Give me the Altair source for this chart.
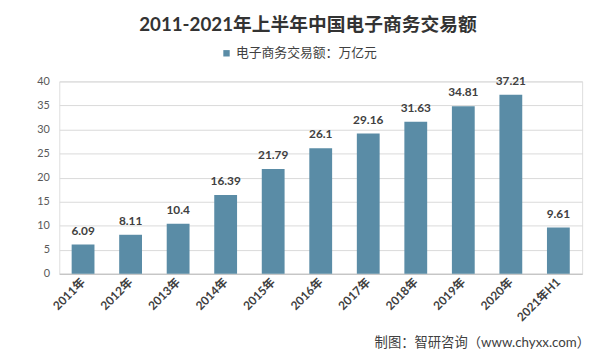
import altair as alt
import pandas as pd

categories = ["2011年", "2012年", "2013年", "2014年", "2015年", "2016年",
              "2017年", "2018年", "2019年", "2020年", "2021年H1"]
values = [6.09, 8.11, 10.4, 16.39, 21.79, 26.1, 29.16, 31.63, 34.81, 37.21, 9.61]
labels = ["6.09", "8.11", "10.4", "16.39", "21.79", "26.1", "29.16", "31.63", "34.81", "37.21", "9.61"]
y_ticks = [0, 5, 10, 15, 20, 25, 30, 35, 40]
series_name = "电子商务交易额：万亿元"
title_text = "2011-2021年上半年中国电子商务交易额"
source_text = "制图：智研咨询（www.chyxx.com）"

BAR = "#5A8CA6"
FONT = "Lato, Noto Sans CJK SC, sans-serif"

df = pd.DataFrame({"cat": categories, "val": values, "lab": labels, "series": series_name})

x = alt.X("cat:N", sort=categories, title=None,
          scale=alt.Scale(paddingInner=0.52, paddingOuter=0.26),
          axis=alt.Axis(labelAngle=-45, labelFont=FONT, labelFontWeight="bold",
                        labelFontSize=12, labelColor="#404040", labelPadding=6,
                        ticks=False, domainColor="#BFBFBF", labelAlign="right",
                        labelBaseline="middle"))
y = alt.Y("val:Q", title=None,
          scale=alt.Scale(domain=[0, 40], nice=False),
          axis=alt.Axis(values=y_ticks, tickCount=20, labelOverlap=False, labelFont=FONT,
                        labelFontSize=11, labelColor="#595959", labelPadding=10,
                        ticks=False, domain=False, gridColor="#D9D9D9"))

bars = alt.Chart(df).mark_bar(color=BAR).encode(
    x=x, y=y,
    color=alt.Color("series:N", scale=alt.Scale(range=[BAR]), title=None,
                    legend=alt.Legend(orient="none", legendX=163, legendY=-35,
                                      symbolType="square", symbolSize=42,
                                      symbolStrokeWidth=0, labelFont=FONT,
                                      labelFontSize=13, labelColor="#404040",
                                      labelOffset=3, padding=0)),
)

text = alt.Chart(df).mark_text(baseline="bottom", dy=-7, font=FONT, fontWeight="bold",
                               fontSize=12, color="#404040").encode(
    x=x, y=y, text="lab:N")

title = alt.Chart(pd.DataFrame({"t": [title_text]})).mark_text(
    font=FONT, fontWeight="bold", fontSize=19, color="#333333",
    align="center", baseline="middle").encode(
    text="t:N", x=alt.value(252), y=alt.value(-57))

source = alt.Chart(pd.DataFrame({"t": [source_text]})).mark_text(
    font=FONT, fontSize=13.5, color="#404040",
    align="right", baseline="middle").encode(
    text="t:N", x=alt.value(538), y=alt.value(265))

chart = alt.layer(bars, text, title, source).properties(
    width=530, height=195,
    autosize=alt.AutoSizeParams(type="none"),
    padding={"left": 52, "top": 72, "right": 10, "bottom": 85},
).configure_view(stroke=None).configure(background="white")

chart.save("out.html", embed_options={"renderer": "svg", "actions": False})
